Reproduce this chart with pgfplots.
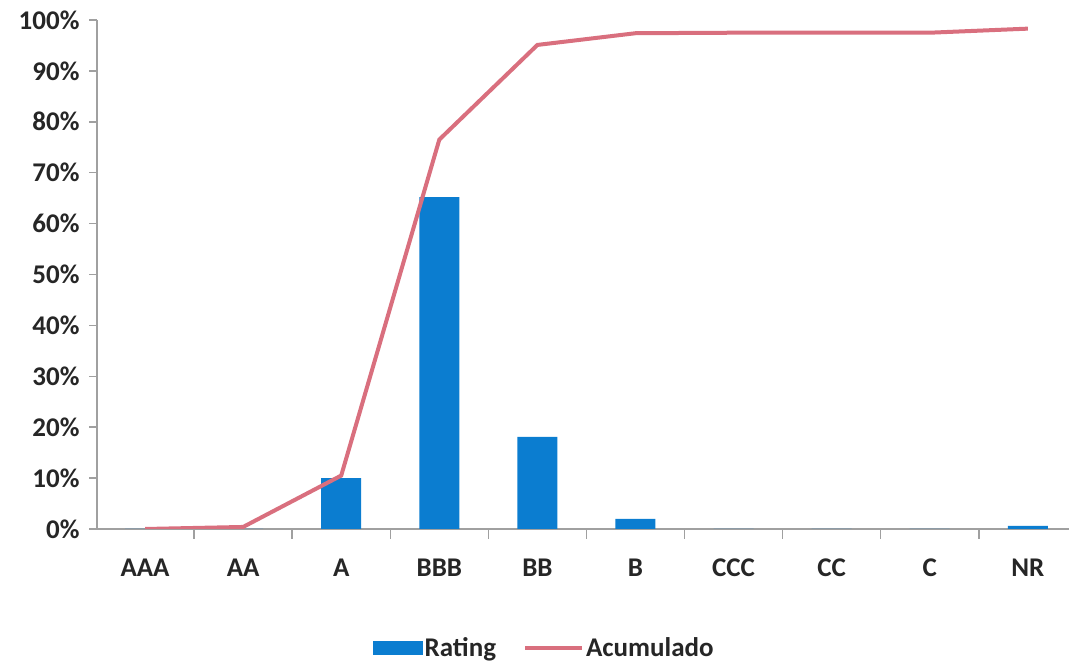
\documentclass[border=0pt]{standalone}
\usepackage{fontspec}
\setmainfont{Carlito}
\usepackage{pgfplots}
\pgfplotsset{compat=1.18}
\definecolor{barblue}{HTML}{0B7DD0}
\definecolor{linepink}{HTML}{D96F7E}
\definecolor{axgray}{HTML}{A0A0A0}
\begin{document}
\begin{tikzpicture}[x=1pt,y=1pt]
\useasboundingbox (0,0) rectangle (1069,663);
\begin{axis}[
  at={(97pt,134pt)}, anchor=south west,
  scale only axis, width=972pt, height=509pt,
  xmin=-0.49, xmax=9.42, ymin=0, ymax=100,
  axis x line*=bottom, axis y line*=left,
  axis line style={axgray, line width=1.5pt},
  font=\fontsize{27}{32}\selectfont\bfseries,
  /pgf/number format/assume math mode=true,
  ytick={0,10,...,100},
  yticklabel={\pgfmathprintnumber{\tick}\%},
  xtick={0,...,9},
  xticklabels={AAA,AA,A,BBB,BB,B,CCC,CC,C,NR},
  minor xtick={0.5,1.5,...,8.5},
  major x tick style={draw=none},
  tick align=outside,
  major tick length=8pt, minor tick length=10pt,
  tick style={axgray, line width=1.5pt},
  xticklabel style={yshift=-18pt, text=black!85},
  yticklabel style={xshift=-6pt, text=black!85},
  legend columns=2,
  legend style={draw=none, fill=none, at={(0.46,-0.234)}, anchor=center,
    font=\fontsize{27}{32}\selectfont\bfseries, text=black!85,
    /tikz/every even column/.append style={column sep=25pt}},
]
\addplot[ybar, bar width=40pt, fill=barblue, draw=none,
  legend image code/.code={\fill[barblue] (0pt,-7pt) rectangle (50pt,7pt);}]
  coordinates {(0,0) (1,0) (2,10.0) (3,65.2) (4,18.1) (5,2.0) (6,0) (7,0) (8,0) (9,0.6)};
\addlegendentry{Rating}
\addplot[linepink, line width=4pt, mark=none,
  legend image code/.code={\draw[linepink, line width=4pt] (0pt,0pt) -- (57pt,0pt);}]
  coordinates {(0,0) (1,0.4) (2,10.5) (3,76.5) (4,95.1) (5,97.4) (6,97.5) (7,97.5) (8,97.5) (9,98.3)};
\addlegendentry{Acumulado}
\end{axis}
\end{tikzpicture}
\end{document}
